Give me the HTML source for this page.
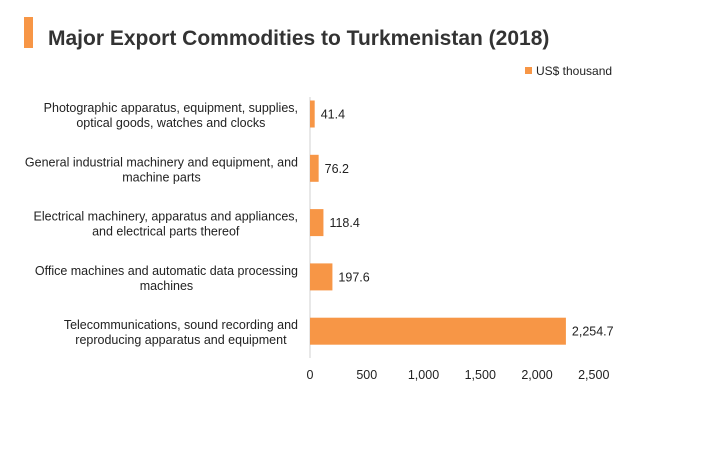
<!DOCTYPE html>
<html><head><meta charset="utf-8"><style>
body{margin:0;background:#fff;font-family:"Liberation Sans",Arial,sans-serif}
</style></head><body>
<svg width="720" height="450" xmlns="http://www.w3.org/2000/svg" font-family="Liberation Sans, Arial, sans-serif">
<rect x="24" y="17" width="9" height="31" fill="#f79646"/>
<text x="48" y="45" font-size="21" font-weight="bold" fill="#333">Major Export Commodities to Turkmenistan (2018)</text>
<rect x="525" y="67" width="7" height="7" fill="#f79646"/>
<text x="536" y="75" font-size="12" fill="#222">US$ thousand</text>
<line x1="310" y1="97" x2="310" y2="358" stroke="#d0d0d0"/>
<g id="bars"></g><g id="ticks"></g>
</svg>
<script>
const categories=[["Photographic apparatus, equipment, supplies,","optical goods, watches and clocks"],["General industrial machinery and equipment, and","machine parts"],["Electrical machinery, apparatus and appliances,","and electrical parts thereof"],["Office machines and automatic data processing","machines"],["Telecommunications, sound recording and","reproducing apparatus and equipment"]];
const values=[41.4,76.2,118.4,197.6,2254.7];
const valueLabels=["41.4","76.2","118.4","197.6","2,254.7"];
const ticks=[0,500,1000,1500,2000,2500];
const tickLabels=["0","500","1,000","1,500","2,000","2,500"];
const NS="http://www.w3.org/2000/svg";
const x=v=>310+v*0.1135;
const yc=i=>114+i*54.3;
const bars=document.getElementById('bars'),tk=document.getElementById('ticks');
function mk(tag,attrs,txt){const e=document.createElementNS(NS,tag);for(const k in attrs)e.setAttribute(k,attrs[k]);if(txt!==undefined)e.textContent=txt;return e;}
values.forEach((v,i)=>{
 const r=mk('rect',{x:x(0),y:yc(i)-13.5,width:x(v)-x(0),height:27,fill:'#f79646'});
 
 
 bars.appendChild(r);
 const t=mk('text',{x:x(v)+6,y:yc(i)+4.5,'font-size':12.5,fill:'#222'},valueLabels[i]);
 
 
 bars.appendChild(t);
 const c=mk('text',{'font-size':12.5,fill:'#222','text-anchor':'middle'});
 
 
 const spans=categories[i].map((ln,j)=>{const s=mk('tspan',{x:0,y:yc(i)-2+j*15},ln);c.appendChild(s);return s;});
 bars.appendChild(c);
 let mw=0;spans.forEach(s=>{mw=Math.max(mw,s.getComputedTextLength());});
 spans.forEach(s=>s.setAttribute('x',298-mw/2));
});
ticks.forEach((v,i)=>{
 const t=mk('text',{x:x(v),y:379,'font-size':12.5,fill:'#222','text-anchor':'middle'},tickLabels[i]);
 
 
 tk.appendChild(t);
});
</script>
</body></html>
